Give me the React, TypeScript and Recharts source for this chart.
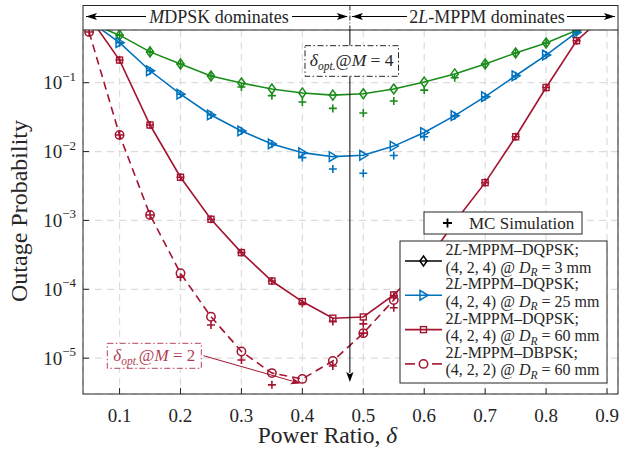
import React from 'react'
import { LineChart, Line, XAxis, YAxis, CartesianGrid } from 'recharts'

const FONT = "'Liberation Serif', 'Times New Roman', serif"
const INK = '#262626'
const GREEN = '#1a8c1a'
const BLUE = '#0072BD'
const RED = '#A2142F'

// power ratio delta
const delta = [0.05, 0.1, 0.15, 0.2, 0.25, 0.3, 0.35, 0.4, 0.45, 0.5, 0.55, 0.6, 0.65, 0.7, 0.75, 0.8, 0.85, 0.9]

// 2L-MPPM-DQPSK (4,2,4) @ D_R = 3 mm
const qpsk3mm = [0.74, 0.49, 0.28, 0.187, 0.125, 0.099, 0.081, 0.071, 0.066, 0.069, 0.081, 0.102, 0.134, 0.187, 0.27, 0.377, 0.575, 1.0]
const qpsk3mmSim = [null, 0.49, 0.28, 0.187, 0.125, 0.0867, 0.0648, 0.0525, 0.0423, 0.0363, 0.0542, 0.078, 0.118, 0.187, 0.27, 0.377, 0.575, null]

// 2L-MPPM-DQPSK (4,2,4) @ D_R = 25 mm
const qpsk25mm = [0.8, 0.381, 0.149, 0.068, 0.034, 0.0199, 0.0129, 0.00964, 0.00843, 0.00883, 0.012, 0.0189, 0.0332, 0.0626, 0.126, 0.252, 0.538, 1.0]
const qpsk25mmSim = [null, 0.381, 0.149, 0.068, 0.034, 0.0199, 0.0129, 0.00817, 0.00558, 0.00484, 0.00877, 0.0164, 0.0332, 0.0626, 0.126, 0.252, 0.538, null]

// 2L-MPPM-DQPSK (4,2,4) @ D_R = 60 mm
const qpsk60mm = [0.91, 0.213, 0.0243, 0.00424, 0.00104, 3.41e-4, 1.32e-4, 6.64e-5, 3.81e-5, 3.97e-5, 8.3e-5, 2.24e-4, 9.5e-4, 3.54e-3, 0.0164, 0.085, 0.407, 1.0]
const qpsk60mmSim = [null, 0.213, 0.0243, 0.00424, 0.00104, 3.41e-4, 1.32e-4, 6.3e-5, 3.4e-5, 3.15e-5, 8.1e-5, 2.1e-4, 9.3e-4, 3.54e-3, 0.0164, 0.085, 0.407, null]

// 2L-MPPM-DBPSK (4,2,2) @ D_R = 60 mm
const bpsk60mm = [0.545, 0.0174, 1.2e-3, 1.71e-4, 4.0e-5, 1.25e-5, 6.07e-6, 5.0e-6, 9.1e-6, 2.31e-5, 7.0e-5, 2.4e-4, null, null, null, null, null, null]
const bpsk60mmSim = [0.545, 0.0174, 1.2e-3, 1.5e-4, 3.04e-5, 9.4e-6, 4.1e-6, null, 7.7e-6, 2.31e-5, 5.4e-5, 2.0e-4, null, null, null, null, null, null]

const xTicks = [0.1, 0.2, 0.3, 0.4, 0.5, 0.6, 0.7, 0.8, 0.9]
const yTicks = [1e-5, 1e-4, 1e-3, 1e-2, 1e-1]

const X_DOMAIN = [0.04, 0.918]
const Y_DOMAIN = [Math.pow(10, -5.52), Math.pow(10, -0.235)]

const data = delta.map((d, i) => ({
  d,
  g: qpsk3mm[i], gs: qpsk3mmSim[i],
  b: qpsk25mm[i], bs: qpsk25mmSim[i],
  r: qpsk60mm[i], rs: qpsk60mmSim[i],
  k: bpsk60mm[i], ks: bpsk60mmSim[i],
}))

// plot frame (matches chart margins below)
const W = 619
const H = 449
const L = 83
const R = 618
const T = 30
const B = 394
const xPx = (d: number) => L + ((d - X_DOMAIN[0]) / (X_DOMAIN[1] - X_DOMAIN[0])) * (R - L)

const skip = (p: any) => p.cy == null || p.cx == null || isNaN(p.cy)

const diamond = (c: string) => (p: any) =>
  skip(p) ? <g key={p.index} /> : (
    <path key={p.index} d={`M${p.cx},${p.cy - 5}L${p.cx + 3.6},${p.cy}L${p.cx},${p.cy + 5}L${p.cx - 3.6},${p.cy}Z`}
      fill="none" stroke={c} strokeWidth={1.5} />
  )
const triRight = (c: string) => (p: any) =>
  skip(p) ? <g key={p.index} /> : (
    <path key={p.index} d={`M${p.cx - 3.5},${p.cy - 4.8}L${p.cx + 4.5},${p.cy}L${p.cx - 3.5},${p.cy + 4.8}Z`}
      fill="none" stroke={c} strokeWidth={1.5} />
  )
const square = (c: string) => (p: any) =>
  skip(p) ? <g key={p.index} /> : (
    <rect key={p.index} x={p.cx - 3} y={p.cy - 3} width={6} height={6} fill="none" stroke={c} strokeWidth={1.4} />
  )
const circle = (c: string) => (p: any) =>
  skip(p) ? <g key={p.index} /> : (
    <circle key={p.index} cx={p.cx} cy={p.cy} r={4.2} fill="none" stroke={c} strokeWidth={1.5} />
  )
const plus = (c: string) => (p: any) =>
  skip(p) ? <g key={p.index} /> : (
    <path key={p.index} d={`M${p.cx - 4},${p.cy}H${p.cx + 4}M${p.cx},${p.cy - 4}V${p.cy + 4}`}
      stroke={c} strokeWidth={1.6} fill="none" />
  )

const YTick = (props: any) => {
  const { x, y, payload } = props
  const e = Math.round(Math.log10(payload.value))
  return (
    <text x={x} y={y + 6.5} textAnchor="end" fill={INK} fontFamily={FONT} fontSize={19}>
      <tspan>10</tspan>
      <tspan dy={-8.5} fontSize={13}>{'\u2212' + Math.abs(e)}</tspan>
    </text>
  )
}

const arrowHead = (tx: number, ty: number, ux: number, uy: number, len = 11, wid = 3.6) => {
  const n = Math.hypot(ux, uy)
  const ax = ux / n
  const ay = uy / n
  const bx = tx - ax * len
  const by = ty - ay * len
  const px = -ay * wid
  const py = ax * wid
  const nx = tx - ax * len * 0.78
  const ny = ty - ay * len * 0.78
  return `M${tx},${ty}L${bx + px},${by + py}L${nx},${ny}L${bx - px},${by - py}Z`
}

const Overlay = () => {
  const vx = xPx(0.478)
  const legendRows = [
    { color: '#000', shape: 'diamond', name: '2L-MPPM\u2013DQPSK;', code: '(4, 2, 4)', dr: '3' },
    { color: BLUE, shape: 'tri', name: '2L-MPPM\u2013DQPSK;', code: '(4, 2, 4)', dr: '25' },
    { color: RED, shape: 'square', name: '2L-MPPM\u2013DQPSK;', code: '(4, 2, 4)', dr: '60' },
    { color: RED, shape: 'circle', name: '2L-MPPM\u2013DBPSK;', code: '(4, 2, 2)', dr: '60' },
  ]
  const m2a = [203.5, 355.7]
  const m2b = [300.7, 383.5]
  return (
    <svg width={W} height={H} style={{ position: 'absolute', left: 0, top: 0, pointerEvents: 'none' }}
      fontFamily={FONT}>
      {/* frame and header band */}
      <rect x={L} y={5.5} width={R - L} height={B - 5.5} fill="none" stroke={INK} strokeWidth={1} />
      <line x1={L} x2={R} y1={T} y2={T} stroke={INK} strokeWidth={1} />
      <line x1={vx} x2={vx} y1={5.5} y2={T} stroke={INK} strokeWidth={1} strokeDasharray="5 2 1 2" />
      <g stroke="#000" strokeWidth={1} fill="#000">
        <line x1={86} x2={146} y1={16.5} y2={16.5} />
        <line x1={292} x2={vx - 3} y1={16.5} y2={16.5} />
        <path d={arrowHead(86, 16.5, -1, 0)} stroke="none" />
        <path d={arrowHead(vx - 2, 16.5, 1, 0)} stroke="none" />
        <line x1={vx + 2} x2={407} y1={16.5} y2={16.5} />
        <line x1={567} x2={R - 3} y1={16.5} y2={16.5} />
        <path d={arrowHead(vx + 2, 16.5, -1, 0)} stroke="none" />
        <path d={arrowHead(R - 3, 16.5, 1, 0)} stroke="none" />
      </g>
      <text x={219} y={23} textAnchor="middle" fontSize={18} fill={INK}>
        <tspan fontStyle="italic">M</tspan>DPSK dominates
      </text>
      <text x={487} y={23} textAnchor="middle" fontSize={18} fill={INK}>
        2<tspan fontStyle="italic">L</tspan>-MPPM dominates
      </text>

      {/* optimum marker for M = 4 */}
      <line x1={vx} x2={vx} y1={T} y2={373} stroke="#000" strokeWidth={1} />
      <path d={arrowHead(vx, 382, 0, 1, 10, 3.6)} fill="#000" />
      <rect x={305} y={45.7} width={93.5} height={30.6} fill="#fff" stroke={INK} strokeWidth={1}
        strokeDasharray="6 2.5 1.5 2.5" />
      <text x={351.7} y={66} textAnchor="middle" fontSize={17.5} fill={INK}>
        <tspan fontStyle="italic">δ</tspan>
        <tspan fontStyle="italic" fontSize={11.5} dy={4}>opt.</tspan>
        <tspan dy={-4}>@</tspan>
        <tspan fontStyle="italic">M</tspan>
        <tspan>{' = 4'}</tspan>
      </text>

      {/* optimum marker for M = 2 */}
      <line x1={m2a[0]} y1={m2a[1]} x2={m2b[0] - 8} y2={m2b[1] - 2.3} stroke={RED} strokeWidth={1} />
      <path d={arrowHead(m2b[0], m2b[1], m2b[0] - m2a[0], m2b[1] - m2a[1], 10, 3.6)} fill={RED} />
      <rect x={107.3} y={343.3} width={94} height={25} fill="#fff" stroke={RED} strokeOpacity={0.8}
        strokeWidth={1} strokeDasharray="6 2.5 1.5 2.5" />
      <text x={154.3} y={360.5} textAnchor="middle" fontSize={17} fill={RED} fillOpacity={0.85}>
        <tspan fontStyle="italic">δ</tspan>
        <tspan fontStyle="italic" fontSize={11.5} dy={4}>opt.</tspan>
        <tspan dy={-4}>@</tspan>
        <tspan fontStyle="italic">M</tspan>
        <tspan>{' = 2'}</tspan>
      </text>

      {/* legends */}
      <rect x={424} y={212} width={158} height={22} fill="#fff" stroke={INK} strokeWidth={1} />
      <path d="M443,223H452M447.5,218.5V227.5" stroke="#000" strokeWidth={1.8} />
      <text x={469} y={228.5} fontSize={17} fill={INK}>MC Simulation</text>

      <rect x={400} y={241} width={207} height={142} fill="#fff" stroke={INK} strokeWidth={1} />
      {legendRows.map((row, i) => {
        const ly = 261 + i * 34.3
        const cx = 423.5
        return (
          <g key={i}>
            {row.shape === 'circle' ? (
              <g stroke={row.color} strokeWidth={1.6}>
                <line x1={405} x2={415} y1={ly} y2={ly} />
                <line x1={432} x2={442} y1={ly} y2={ly} />
              </g>
            ) : (
              <line x1={405} x2={442} y1={ly} y2={ly} stroke={row.color} strokeWidth={1.6} />
            )}
            {row.shape === 'diamond' && diamond(row.color)({ cx, cy: ly, index: 'd' })}
            {row.shape === 'tri' && triRight(row.color)({ cx, cy: ly, index: 't' })}
            {row.shape === 'square' && square(row.color)({ cx, cy: ly, index: 's' })}
            {row.shape === 'circle' && circle(row.color)({ cx, cy: ly, index: 'c' })}
            <text x={445.5} y={ly - 6} fontSize={16} fill={INK}>
              2<tspan fontStyle="italic">L</tspan>{row.name.slice(2)}
            </text>
            <text x={445.5} y={ly + 11.5} fontSize={16} fill={INK}>
              <tspan>{row.code + ' @ '}</tspan>
              <tspan fontStyle="italic">D</tspan>
              <tspan fontStyle="italic" fontSize={11.5} dy={3.5}>R</tspan>
              <tspan dy={-3.5}>{' = ' + row.dr + ' mm'}</tspan>
            </text>
          </g>
        )
      })}

      {/* axis titles */}
      <text x={327.5} y={443} textAnchor="middle" fontSize={23.5} fill={INK}>
        Power Ratio, <tspan fontStyle="italic">δ</tspan>
      </text>
      <text x={27} y={211} textAnchor="middle" fontSize={24} fill={INK} transform="rotate(-90 27 211)">
        Outage Probability
      </text>
    </svg>
  )
}

export default function App() {
  return (
    <div style={{ position: 'absolute', left: 0, top: 0, width: W, height: H, background: '#fff' }}>
      <LineChart width={W} height={H} data={data} margin={{ top: T - 1, right: W - R - 1, bottom: H - B - 1, left: L - 1 }}>
        <CartesianGrid stroke="#dcdcdc" strokeWidth={1.2} strokeDasharray="7 5" />
        <XAxis dataKey="d" type="number" domain={X_DOMAIN} ticks={xTicks} allowDataOverflow interval={0}
          height={1} axisLine={false} tickSize={-6} tickMargin={20.5}
          tickLine={{ stroke: INK }} tick={{ fontSize: 19, fill: INK, fontFamily: FONT }} />
        <XAxis xAxisId="top" orientation="top" dataKey="d" type="number" domain={X_DOMAIN} ticks={xTicks}
          allowDataOverflow interval={0} height={1} axisLine={false} tick={false} tickSize={-6}
          tickLine={{ stroke: INK }} />
        <YAxis type="number" scale="log" domain={Y_DOMAIN} ticks={yTicks} allowDataOverflow interval={0}
          width={1} axisLine={false} tickSize={-6} tickMargin={13} tickLine={{ stroke: INK }} tick={<YTick />} />
        <YAxis yAxisId="right" orientation="right" type="number" scale="log" domain={Y_DOMAIN} ticks={yTicks}
          allowDataOverflow interval={0} width={1} axisLine={false} tick={false} tickSize={-6}
          tickLine={{ stroke: INK }} />

        <Line dataKey="g" stroke={GREEN} strokeWidth={1.6} dot={diamond(GREEN)} activeDot={false} isAnimationActive={false} />
        <Line dataKey="b" stroke={BLUE} strokeWidth={1.6} dot={triRight(BLUE)} activeDot={false} isAnimationActive={false} />
        <Line dataKey="r" stroke={RED} strokeWidth={1.6} dot={square(RED)} activeDot={false} isAnimationActive={false} />
        <Line dataKey="k" stroke={RED} strokeWidth={1.6} strokeDasharray="8 5" dot={circle(RED)} activeDot={false} isAnimationActive={false} />

        <Line dataKey="gs" stroke="none" dot={plus(GREEN)} activeDot={false} isAnimationActive={false} />
        <Line dataKey="bs" stroke="none" dot={plus(BLUE)} activeDot={false} isAnimationActive={false} />
        <Line dataKey="rs" stroke="none" dot={plus(RED)} activeDot={false} isAnimationActive={false} />
        <Line dataKey="ks" stroke="none" dot={plus(RED)} activeDot={false} isAnimationActive={false} />
      </LineChart>
      <Overlay />
    </div>
  )
}
